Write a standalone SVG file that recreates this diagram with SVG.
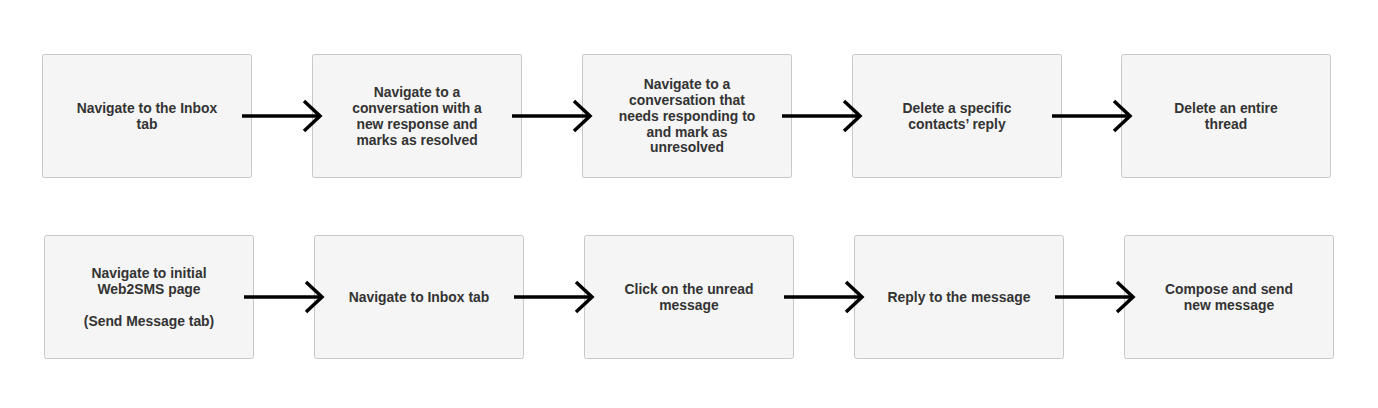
<svg xmlns="http://www.w3.org/2000/svg" width="1378" height="408" viewBox="0 0 1378 408">
<style>
.box{fill:#f5f5f5;stroke:#c8c8c8;stroke-width:1}
.t{font-family:"Liberation Sans",Arial,sans-serif;font-weight:bold;font-size:13.9px;fill:#333333;text-anchor:middle}
.c{fill:none;stroke:#000;stroke-width:3.5}
</style>
<defs>
<marker id="chev" markerUnits="userSpaceOnUse" markerWidth="40" markerHeight="40" refX="0" refY="0" viewBox="-20 -20 40 40" orient="auto" overflow="visible">
<path d="M-16,-15 L0,0 L-16,15" fill="none" stroke="#000" stroke-width="3.5"/>
</marker>
</defs>
<rect width="1378" height="408" fill="#ffffff"/>
<g id="n1"><rect class="box" x="42.5" y="54.5" width="209" height="123" rx="2"/>
<text class="t" x="147" y="113">Navigate to the Inbox</text><text class="t" x="147" y="129">tab</text></g>
<g id="n2"><rect class="box" x="312.5" y="54.5" width="209" height="123" rx="2"/>
<text class="t" x="417" y="97">Navigate to a</text><text class="t" x="417" y="113">conversation with a</text><text class="t" x="417" y="129">new response and</text><text class="t" x="417" y="145">marks as resolved</text></g>
<g id="n3"><rect class="box" x="582.5" y="54.5" width="209" height="123" rx="2"/>
<text class="t" x="687" y="89.3">Navigate to a</text><text class="t" x="687" y="105.1">conversation that</text><text class="t" x="687" y="120.9">needs responding to</text><text class="t" x="687" y="136.6">and mark as</text><text class="t" x="687" y="152.4">unresolved</text></g>
<g id="n4"><rect class="box" x="852.5" y="54.5" width="209" height="123" rx="2"/>
<text class="t" x="957" y="113">Delete a specific</text><text class="t" x="957" y="129">contacts’ reply</text></g>
<g id="n5"><rect class="box" x="1121.5" y="54.5" width="209" height="123" rx="2"/>
<text class="t" x="1226" y="113">Delete an entire</text><text class="t" x="1226" y="129">thread</text></g>
<g id="n6"><rect class="box" x="44.5" y="235.5" width="209" height="123" rx="2"/>
<text class="t" x="149" y="278.3">Navigate to initial</text><text class="t" x="149" y="294.3">Web2SMS page</text><text class="t" x="149" y="326.3">(Send Message tab)</text></g>
<g id="n7"><rect class="box" x="314.5" y="235.5" width="209" height="123" rx="2"/>
<text class="t" x="419" y="302">Navigate to Inbox tab</text></g>
<g id="n8"><rect class="box" x="584.5" y="235.5" width="209" height="123" rx="2"/>
<text class="t" x="689" y="294">Click on the unread</text><text class="t" x="689" y="310">message</text></g>
<g id="n9"><rect class="box" x="854.5" y="235.5" width="209" height="123" rx="2"/>
<text class="t" x="959" y="302">Reply to the message</text></g>
<g id="n10"><rect class="box" x="1124.5" y="235.5" width="209" height="123" rx="2"/>
<text class="t" x="1229" y="294">Compose and send</text><text class="t" x="1229" y="310">new message</text></g>
<g id="connectors">
<path class="c" d="M242 116 H320" marker-end="url(#chev)"/>
<path class="c" d="M512 116 H590" marker-end="url(#chev)"/>
<path class="c" d="M782 116 H860" marker-end="url(#chev)"/>
<path class="c" d="M1052 116 H1130" marker-end="url(#chev)"/>
<path class="c" d="M244 297 H322" marker-end="url(#chev)"/>
<path class="c" d="M514 297 H592" marker-end="url(#chev)"/>
<path class="c" d="M784 297 H862" marker-end="url(#chev)"/>
<path class="c" d="M1055 297 H1133" marker-end="url(#chev)"/>
</g>
</svg>
